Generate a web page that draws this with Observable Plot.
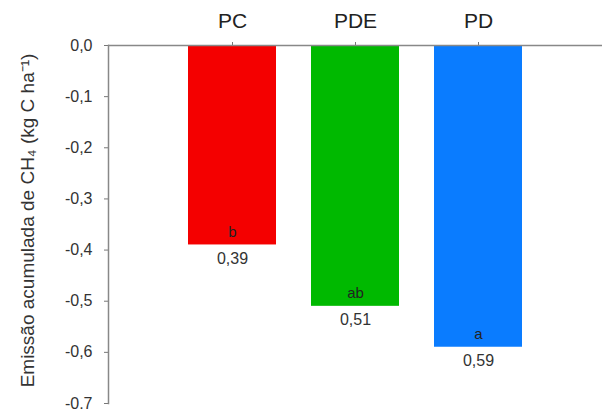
<!DOCTYPE html>
<html>
<head>
<meta charset="utf-8">
<script src="https://cdn.jsdelivr.net/npm/d3@7"></script>
<script src="https://cdn.jsdelivr.net/npm/@observablehq/plot@0.6"></script>
<style>
  html, body { margin: 0; padding: 0; background: #fff; }
</style>
</head>
<body>
<div id="chart"></div>
<script>
const categories = ["PC", "PDE", "PD"];
const values = [-0.39, -0.51, -0.59];
const letters = ["b", "ab", "a"];
const colors = ["#f40000", "#00b900", "#0a7cff"];
const yTicks = [0, -0.1, -0.2, -0.3, -0.4, -0.5, -0.6, -0.7];
const yLabel = "Emissão acumulada de CH₄ (kg C ha⁻¹)";

const data = categories.map((c, i) => ({cat: c, value: values[i], letter: letters[i]}));
const fmt = d => (Math.abs(d) < 1e-9 ? 0 : d).toFixed(1).replace(".", ",");
const fmtVal = d => Math.abs(d).toFixed(2).replace(".", ",");

const chart = Plot.plot({
  width: 602,
  height: 409,
  marginTop: 45,
  marginBottom: 6,
  marginLeft: 108,
  marginRight: 0,
  style: {fontFamily: "'Liberation Sans', Arial, sans-serif", background: "#fff", color: "#222", overflow: "visible"},
  x: {domain: categories, paddingInner: 0.285, paddingOuter: 0.645, axis: null},
  y: {domain: [-0.7, 0], axis: null},
  color: {domain: categories, range: colors},
  marks: [
    Plot.barY(data, {x: "cat", y: "value", fill: "cat"}),
    Plot.axisY({ticks: yTicks, tickFormat: fmt, tickSize: 4, tickPadding: 12, fontSize: 16, stroke: "#777", fill: "#333", label: null}),
    Plot.axisX({anchor: "top", tickSize: 4, tickPadding: 14, fontSize: 21, stroke: "#777", fill: "#222", label: null}),
    Plot.ruleY([0], {stroke: "#888", strokeWidth: 1.5}),
    Plot.frame({anchor: "left", stroke: "#888", strokeWidth: 1.5}),
    Plot.text(data, {x: "cat", y: "value", text: "letter", dy: -13, fontSize: 15, fill: "#222"}),
    Plot.text(data, {x: "cat", y: "value", text: d => fmtVal(d.value), dy: 14, fontSize: 16, fill: "#333"}),
    Plot.text([yLabel], {frameAnchor: "left", textAnchor: "middle", rotate: -90, dx: -81, dy: -4, fontSize: 19, fill: "#333"})
  ]
});
document.getElementById("chart").appendChild(chart);
</script>
</body>
</html>
